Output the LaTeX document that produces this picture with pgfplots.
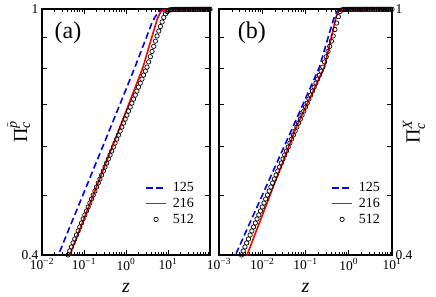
\documentclass[border=0pt]{standalone}
\usepackage{amsmath}
\usepackage{pgfplots}
\pgfplotsset{compat=1.18}
\usepackage{fontspec}
\setmainfont{Liberation Serif}
\pgfplotsset{
  scale only axis, height=246bp,
  ymin=0.4, ymax=1,
  axis line style={line width=1.1bp},
  every tick/.style={black, line width=0.9bp},
  major tick length=5.5bp, minor tick length=3.2bp,
  tick label style={font=\fontsize{13.5bp}{15bp}\selectfont},
  label style={font=\fontsize{20bp}{22bp}\selectfont},
  xlabel={\textit{z}},
  xlabel style={at={(axis description cs:0.5,-0.134)}, anchor=center},
  legend cell align=left,
}
\begin{document}
\begin{tikzpicture}
\path[use as bounding box] (-42bp,-42bp) rectangle (394bp,255bp);
% ---------------- panel (a)
\begin{axis}[xmode=log, ymode=log, width=168bp, xmin=0.01, xmax=100,
  ytick={0.4,0.5,0.6,0.7,0.8,0.9,1},
  yticklabels={0.4,,,,,,1},
  legend image code/.code={\draw[mark repeat=2,mark phase=2,#1] plot coordinates {(0bp,0bp) (10bp,0bp) (20bp,0bp)};},
  legend style={draw=none, fill=none, font=\fontsize{14bp}{16bp}\selectfont, row sep=1bp, column sep=4bp, at={(axis description cs:0.935,0.106)}, anchor=south east},
  xtick={0.01,0.1,1,10,100},
  xticklabels={10\textsuperscript{−2},10\textsuperscript{−1},10\textsuperscript{0},10\textsuperscript{1},{}},
  minor xtick={0.02,0.03,0.04,0.05,0.06,0.07,0.08,0.09,0.2,0.3,0.4,0.5,0.6,0.7,0.8,0.9,2,3,4,5,6,7,8,9,20,30,40,50,60,70,80,90},
  ylabel={Π$_{\textit{c}}^{\tilde{\textit{p}}}$},
  ylabel style={at={(axis description cs:-0.14,0.5)}, anchor=center},
]
\addplot[only marks, mark=o, mark size=2.2bp, black, mark options={line width=0.7bp}, forget plot] coordinates {
(0.04169,0.4001) (0.04571,0.4061) (0.05012,0.4122) (0.05495,0.4184) (0.06026,0.4246)
(0.06607,0.4310) (0.07244,0.4375) (0.07943,0.4440) (0.08710,0.4507) (0.09550,0.4575)
(0.1047,0.4643) (0.1148,0.4713) (0.1259,0.4783) (0.1380,0.4855) (0.1514,0.4928)
(0.1660,0.5002) (0.1820,0.5077) (0.1995,0.5153) (0.2188,0.5230) (0.2399,0.5309)
(0.2630,0.5388) (0.2884,0.5469) (0.3162,0.5551) (0.3467,0.5634) (0.3802,0.5719)
(0.4169,0.5805) (0.4571,0.5892) (0.5012,0.5980) (0.5495,0.6070) (0.6026,0.6161)
(0.6607,0.6253) (0.7244,0.6347) (0.7943,0.6442) (0.8710,0.6539) (0.9550,0.6637)
(1.047,0.6736) (1.148,0.6837) (1.259,0.6940) (1.380,0.7044) (1.514,0.7150)
(1.660,0.7257) (1.820,0.7366) (1.995,0.7476) (2.188,0.7588) (2.399,0.7702)
(2.630,0.7818) (2.884,0.7935) (3.162,0.8054) (3.467,0.8211) (3.802,0.8372)
(4.169,0.8535) (4.571,0.8701) (5.012,0.8871) (5.495,0.9044) (6.026,0.9211)
(6.607,0.9368) (7.244,0.9528) (7.943,0.9690) (8.710,0.9818) (9.550,0.9908)
(10.47,0.9959) (11.48,0.9972) (12.59,0.9979) (13.80,0.9984) (15.14,0.9985)
(16.60,0.9986) (18.20,0.9986) (19.95,0.9987) (21.88,0.9987) (23.99,0.9987)
(26.30,0.9988) (28.84,0.9988) (31.62,0.9988) (34.67,0.9988) (38.02,0.9989)
(41.69,0.9989) (45.71,0.9989) (50.12,0.9989) (54.95,0.9989) (60.26,0.9990)
(66.07,0.9990) (72.44,0.9990) (79.43,0.9990) (87.10,0.9990) (95.50,0.9990) (100,0.9990)
};
\addplot[blue, line width=1.6bp, dash pattern=on 6.5bp off 3.5bp, forget plot] coordinates {
(0.02138,0.3912) (0.4325,0.6442) (1.6368,0.8054) (3.3419,0.9141) (4.1687,0.9506)
(5.0119,0.9727) (6.3096,0.9931) (7.9433,0.9977) (100,0.9989)
};
\addplot[red, line width=1.6bp, forget plot] coordinates {
(0.03890,0.3888) (0.7194,0.6442) (2.5410,0.8054) (4.3954,0.9141) (5.6234,0.9660)
(6.7608,0.9908) (8.3176,0.9972) (100,0.9989)
};
\addlegendimage{blue, line width=1.6bp, dash pattern=on 6.5bp off 3.5bp}
\addlegendentry{125}
\addlegendimage{red, line width=1.6bp}
\addlegendentry{216}
\addlegendimage{only marks, mark=o, mark size=2.2bp, black, mark options={line width=0.7bp}}
\addlegendentry{512}
\node[font=\fontsize{24bp}{26bp}\selectfont] at (rel axis cs:0.155,0.902) {(a)};
\end{axis}
% ---------------- panel (b)
\begin{axis}[xmode=log, ymode=log, at={(177bp,0bp)}, anchor=south west, width=173bp,
  ytick={0.4,0.5,0.6,0.7,0.8,0.9,1},
  yticklabels={0.4,,,,,,1},
  legend image code/.code={\draw[mark repeat=2,mark phase=2,#1] plot coordinates {(0bp,0bp) (10bp,0bp) (20bp,0bp)};},
  legend style={draw=none, fill=none, font=\fontsize{14bp}{16bp}\selectfont, row sep=1bp, column sep=4bp, at={(axis description cs:0.96,0.106)}, anchor=south east},
  xmin=0.001, xmax=10,
  xtick={0.001,0.01,0.1,1,10},
  xticklabels={10\textsuperscript{−3},10\textsuperscript{−2},10\textsuperscript{−1},10\textsuperscript{0},10\textsuperscript{1}},
  minor xtick={0.002,0.003,0.004,0.005,0.006,0.007,0.008,0.009,0.02,0.03,0.04,0.05,0.06,0.07,0.08,0.09,0.2,0.3,0.4,0.5,0.6,0.7,0.8,0.9,2,3,4,5,6,7,8,9},
  yticklabel pos=right,
  ylabel={Π$_{\textit{c}}^{\textit{X}}$},
  ylabel style={at={(axis description cs:1.127,0.5)}, anchor=center},
]
\addplot[only marks, mark=o, mark size=2.2bp, black, mark options={line width=0.7bp}, forget plot] coordinates {
(0.003311,0.4001) (0.003631,0.4061) (0.003981,0.4122) (0.004365,0.4184) (0.004786,0.4246)
(0.005248,0.4310) (0.005754,0.4375) (0.006310,0.4440) (0.006918,0.4507) (0.007586,0.4575)
(0.008318,0.4643) (0.009120,0.4713) (0.01000,0.4783) (0.01096,0.4855) (0.01202,0.4928)
(0.01318,0.5002) (0.01445,0.5077) (0.01585,0.5153) (0.01738,0.5230) (0.01905,0.5309)
(0.02089,0.5388) (0.02291,0.5469) (0.02512,0.5551) (0.02754,0.5634) (0.03020,0.5719)
(0.03311,0.5805) (0.03631,0.5892) (0.03981,0.5980) (0.04365,0.6070) (0.04786,0.6161)
(0.05248,0.6253) (0.05754,0.6347) (0.06310,0.6442) (0.06918,0.6539) (0.07586,0.6637)
(0.08318,0.6736) (0.09120,0.6837) (0.1000,0.6940) (0.1096,0.7044) (0.1202,0.7150)
(0.1318,0.7257) (0.1445,0.7366) (0.1585,0.7476) (0.1738,0.7588) (0.1905,0.7702)
(0.2089,0.7818) (0.2291,0.7935) (0.2512,0.8054) (0.2754,0.8211) (0.3020,0.8372)
(0.3311,0.8535) (0.3631,0.8701) (0.3981,0.8871) (0.4365,0.9044) (0.4786,0.9264)
(0.5248,0.9489) (0.5754,0.9719) (0.6310,0.9908) (0.6918,0.9966) (0.7586,0.9980)
(0.8318,0.9985) (0.9120,0.9987) (1.000,0.9988) (1.096,0.9988) (1.202,0.9988)
(1.318,0.9989) (1.445,0.9989) (1.585,0.9989) (1.738,0.9989) (1.905,0.9989)
(2.089,0.9990) (2.291,0.9990) (2.512,0.9990) (2.754,0.9990) (3.020,0.9990)
(3.311,0.9990) (3.631,0.9990) (3.981,0.9990) (4.365,0.9990) (4.786,0.9990)
(5.248,0.9990) (5.754,0.9990) (6.310,0.9990) (6.918,0.9990) (7.586,0.9990)
(8.318,0.9990) (9.120,0.9990) (10,0.9990)
};
\addplot[blue, line width=1.6bp, dash pattern=on 6.5bp off 3.5bp, forget plot] coordinates {
(0.001995,0.3886) (0.05105,0.6442) (0.2099,0.8054) (0.3565,0.9141) (0.4677,0.9727)
(0.5495,0.9931) (0.6310,0.9977) (10,0.9989)
};
\addplot[red, line width=1.6bp, forget plot] coordinates {
(0.003802,0.3888) (0.06109,0.6442) (0.2735,0.8054) (0.4178,0.9141) (0.5129,0.9727)
(0.5888,0.9931) (0.6761,0.9977) (10,0.9989)
};
\addlegendimage{blue, line width=1.6bp, dash pattern=on 6.5bp off 3.5bp}
\addlegendentry{125}
\addlegendimage{red, line width=1.6bp}
\addlegendentry{216}
\addlegendimage{only marks, mark=o, mark size=2.2bp, black, mark options={line width=0.7bp}}
\addlegendentry{512}
\node[font=\fontsize{24bp}{26bp}\selectfont] at (rel axis cs:0.19,0.902) {(b)};
\end{axis}
\end{tikzpicture}
\end{document}
